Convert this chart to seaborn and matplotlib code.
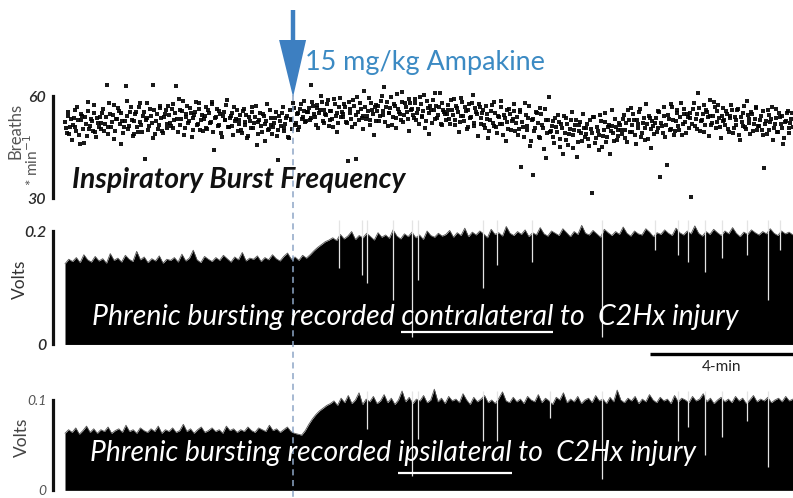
import numpy as np
import pandas as pd
import matplotlib
matplotlib.use("Agg")
import matplotlib.pyplot as plt
import seaborn as sns

# ---------------- data ----------------
record_minutes = 20.36      # length of the recording shown
injection_min = 6.38        # time of the Ampakine bolus
scale_bar_min = 4           # "4-min" scale bar

# inspiratory burst frequency (breaths/min): odd breaths, one row ~ 1 min
freq_rows_a = [
    [52.4, 49.1, 55.3, 50.8, 47.2, 53.6, 51.0, 56.8, 48.5, 52.9, 54.1, 46.3, 51.7, 58.2, 50.2, 53.3, 49.6, 55.0, 47.9, 52.1],
    [53.8, 50.4, 56.2, 51.9, 63.1, 48.7, 54.6, 52.3, 57.4, 49.8, 53.1, 55.7, 45.9, 52.6, 50.9, 62.8, 54.2, 51.3, 56.9, 48.2],
    [52.7, 55.4, 49.3, 57.8, 51.6, 54.0, 41.4, 53.5, 50.1, 56.3, 52.2, 63.3, 48.9, 54.8, 51.4, 57.1, 49.7, 53.9, 55.8, 50.6],
    [54.3, 51.2, 57.6, 52.8, 63.0, 49.4, 55.9, 53.1, 58.4, 50.7, 54.7, 52.0, 56.5, 47.8, 53.6, 55.2, 51.5, 57.9, 49.9, 54.4],
    [53.2, 56.7, 50.3, 54.9, 52.4, 58.1, 44.2, 53.7, 51.1, 55.6, 49.2, 54.2, 52.9, 57.3, 50.8, 53.4, 55.1, 48.6, 52.6, 56.0],
    [51.8, 54.5, 49.0, 56.1, 52.3, 47.5, 53.9, 50.5, 55.4, 52.0, 57.2, 48.8, 53.0, 51.2, 54.8, 46.9, 52.7, 50.1, 55.9, 51.5],
    [50.9, 53.6, 48.3, 41.2, 52.5, 55.0, 49.6, 51.8, 54.2, 47.7, 53.1, 50.4, 56.6, 52.2, 54.9, 51.0, 57.5, 53.8, 55.7, 52.6],
    [55.2, 52.8, 63.2, 57.1, 53.9, 56.4, 50.7, 55.8, 58.3, 52.1, 54.6, 57.7, 51.3, 55.5, 53.2, 59.0, 54.0, 49.5, 56.8, 53.7],
    [54.8, 57.6, 52.4, 41.0, 56.1, 53.3, 58.8, 51.7, 41.6, 55.4, 57.9, 53.6, 50.3, 56.7, 54.1, 59.4, 52.9, 55.9, 48.4, 57.3],
    [55.7, 52.6, 58.5, 54.3, 62.6, 56.9, 51.1, 55.0, 59.6, 53.8, 57.2, 50.6, 56.3, 54.7, 61.3, 52.3, 57.8, 55.3, 49.7, 58.0],
    [56.2, 53.4, 59.2, 55.1, 51.8, 57.5, 54.0, 60.4, 52.7, 56.6, 48.9, 55.8, 58.7, 53.1, 57.0, 54.5, 61.0, 51.4, 56.0, 54.8],
    [54.6, 57.3, 51.9, 55.9, 59.1, 53.0, 56.4, 49.4, 54.2, 58.2, 52.5, 55.6, 50.8, 57.6, 53.7, 60.2, 51.2, 55.2, 48.1, 56.8],
    [53.5, 56.0, 50.7, 54.8, 47.6, 52.9, 57.4, 51.3, 55.1, 49.2, 53.8, 58.6, 51.9, 54.4, 46.8, 52.4, 56.2, 50.0, 53.2, 55.7],
    [52.1, 48.6, 55.3, 39.2, 51.0, 57.9, 49.9, 53.6, 45.4, 52.8, 36.9, 50.5, 54.9, 47.8, 56.4, 51.6, 44.3, 53.0, 49.1, 59.8],
    [49.6, 52.7, 46.1, 50.9, 54.5, 47.3, 51.8, 43.0, 49.0, 53.4, 45.7, 50.2, 55.2, 48.4, 51.5, 42.2, 49.8, 52.3, 46.9, 50.6],
    [48.9, 51.9, 45.2, 50.3, 31.4, 53.8, 47.5, 49.7, 44.1, 52.6, 48.2, 55.0, 46.4, 50.8, 42.9, 51.3, 49.2, 53.1, 47.0, 50.0],
    [51.4, 48.7, 54.3, 50.1, 46.6, 52.8, 56.5, 49.5, 53.0, 45.8, 51.7, 55.4, 48.0, 52.2, 50.6, 57.7, 47.4, 53.5, 44.6, 51.1],
    [52.0, 49.3, 55.6, 36.1, 51.3, 54.0, 47.9, 39.8, 53.3, 50.4, 56.9, 48.5, 52.7, 55.1, 50.0, 57.8, 51.9, 54.6, 49.0, 53.9],
    [53.4, 30.2, 56.1, 51.2, 54.8, 60.9, 49.8, 53.0, 57.3, 51.6, 55.2, 48.3, 54.1, 52.0, 58.2, 50.5, 55.7, 53.6, 47.6, 56.4],
    [52.8, 55.5, 50.2, 54.0, 57.4, 49.1, 53.7, 51.4, 56.2, 47.2, 52.3, 55.0, 50.8, 58.5, 53.1, 48.8, 54.6, 51.9, 56.8, 50.0],
    [51.2, 54.1, 48.4, 38.7, 52.6, 55.8, 50.0, 53.3, 47.0, 51.8, 56.3, 49.5, 53.9, 50.7, 45.9, 52.4, 54.9, 49.2, 52.0, 55.1],
]

# even breaths (interleaved with the rows above)
freq_rows_b = [
    [50.6, 54.2, 48.9, 53.1, 51.5, 56.0, 49.7, 52.8, 45.8, 54.7, 50.3, 53.9, 48.1, 55.6, 51.2, 52.5, 57.3, 49.4, 53.6, 50.9],
    [52.1, 55.0, 49.6, 53.7, 51.0, 57.9, 50.8, 54.4, 47.3, 53.2, 56.4, 51.7, 54.9, 49.0, 52.7, 58.6, 50.4, 55.3, 52.9, 48.8],
    [54.6, 50.9, 56.8, 52.3, 49.5, 55.2, 53.0, 58.0, 51.1, 54.1, 47.6, 55.9, 52.6, 50.2, 56.5, 53.4, 49.2, 54.8, 51.8, 57.0],
    [52.2, 56.1, 50.5, 54.9, 53.3, 59.2, 51.4, 55.5, 48.6, 53.8, 57.1, 52.5, 55.0, 50.0, 54.5, 58.3, 51.9, 56.2, 53.0, 49.8],
    [54.0, 50.6, 55.8, 52.1, 57.5, 49.3, 53.5, 56.3, 51.6, 54.6, 47.9, 55.3, 52.8, 58.7, 50.9, 54.2, 51.3, 56.9, 53.1, 49.6],
    [53.0, 49.9, 55.7, 51.4, 54.3, 48.2, 52.6, 56.8, 50.7, 53.8, 45.5, 52.3, 55.1, 49.3, 54.0, 51.9, 57.6, 50.4, 53.4, 48.7],
    [52.0, 55.3, 49.9, 54.1, 51.2, 56.7, 50.6, 53.5, 48.0, 55.8, 52.9, 57.9, 51.5, 54.6, 50.1, 56.2, 53.3, 58.6, 52.4, 55.4],
    [56.5, 53.4, 58.1, 54.7, 51.6, 57.3, 55.0, 60.1, 52.7, 56.0, 54.3, 58.9, 53.0, 55.7, 50.8, 57.5, 54.9, 52.2, 59.3, 55.2],
    [53.9, 56.8, 52.0, 58.2, 55.1, 50.9, 57.0, 54.4, 59.8, 52.8, 56.3, 54.0, 61.4, 53.1, 55.7, 51.4, 57.8, 54.6, 56.9, 52.5],
    [57.0, 54.1, 59.9, 55.6, 52.4, 58.3, 54.9, 56.6, 51.5, 57.7, 53.6, 60.5, 55.3, 52.9, 58.1, 54.5, 56.9, 53.2, 59.2, 55.9],
    [54.4, 57.8, 52.9, 56.3, 59.7, 53.8, 55.5, 50.7, 58.4, 54.9, 57.1, 52.2, 55.9, 60.9, 53.5, 56.8, 51.9, 58.0, 55.2, 53.0],
    [56.0, 53.2, 58.9, 54.5, 51.5, 57.1, 55.4, 52.3, 59.5, 54.0, 56.7, 50.2, 55.8, 53.6, 58.0, 52.0, 56.4, 54.8, 57.6, 51.7],
    [54.9, 51.6, 57.0, 53.3, 49.8, 55.6, 52.2, 58.3, 50.8, 54.1, 51.9, 56.8, 48.5, 53.4, 55.9, 50.3, 54.6, 52.7, 57.5, 49.6],
    [53.7, 50.2, 55.9, 52.4, 48.0, 54.3, 51.2, 57.0, 46.9, 53.1, 49.6, 55.4, 52.0, 47.5, 54.8, 50.7, 56.1, 41.8, 52.9, 49.3],
    [51.1, 47.8, 53.6, 49.4, 52.3, 45.1, 50.5, 54.2, 47.2, 51.7, 48.9, 53.0, 44.6, 50.0, 52.8, 46.5, 51.4, 49.0, 54.7, 47.9],
    [50.5, 47.4, 52.9, 49.1, 53.7, 46.3, 51.0, 48.5, 54.4, 45.0, 50.1, 52.4, 47.8, 51.6, 49.6, 55.8, 46.9, 50.9, 48.2, 52.2],
    [50.0, 53.1, 47.7, 52.0, 55.9, 49.3, 51.5, 54.6, 48.4, 52.9, 50.7, 56.3, 49.0, 53.5, 47.1, 51.8, 54.0, 50.3, 52.5, 48.9],
    [53.6, 50.7, 55.3, 52.1, 49.2, 56.7, 51.6, 54.3, 50.0, 57.5, 52.8, 49.7, 55.9, 51.2, 53.9, 48.6, 56.2, 52.4, 54.8, 50.6],
    [55.0, 51.9, 57.8, 53.3, 50.4, 56.5, 52.7, 54.6, 49.3, 55.9, 53.8, 58.9, 51.5, 54.2, 56.9, 52.3, 57.4, 50.9, 54.0, 52.6],
    [51.6, 54.7, 49.5, 53.4, 56.0, 50.7, 52.9, 55.8, 48.6, 53.8, 51.1, 57.1, 50.2, 54.3, 52.0, 55.4, 49.8, 53.2, 56.6, 51.3],
    [53.0, 50.1, 55.5, 51.7, 48.9, 54.4, 52.3, 56.9, 50.6, 53.6, 49.4, 55.1, 51.9, 54.0, 47.6, 52.7, 55.6, 50.5, 53.3, 51.0],
]

# integrated phrenic burst amplitude (V), every 0.1 min — contralateral
contra_env = [
    0.142, 0.150, 0.146, 0.153, 0.144, 0.158, 0.149, 0.145, 0.155, 0.147,
    0.151, 0.143, 0.160, 0.148, 0.152, 0.145, 0.157, 0.150, 0.146, 0.164,
    0.149, 0.154, 0.144, 0.151, 0.147, 0.156, 0.143, 0.150, 0.148, 0.153,
    0.145, 0.159, 0.147, 0.152, 0.166, 0.149, 0.144, 0.155, 0.150, 0.146,
    0.153, 0.148, 0.157, 0.151, 0.145, 0.154, 0.149, 0.162, 0.147, 0.152,
    0.150, 0.156, 0.146, 0.153, 0.149, 0.158, 0.151, 0.147, 0.155, 0.161,
    0.150, 0.154, 0.148, 0.157,
    0.152, 0.158, 0.165, 0.171, 0.176, 0.181, 0.184,
    0.188, 0.183, 0.194, 0.186, 0.191, 0.199, 0.185, 0.192, 0.188, 0.196,
    0.190, 0.184, 0.197, 0.189, 0.193, 0.187, 0.202, 0.191, 0.186, 0.195,
    0.190, 0.198, 0.188, 0.193, 0.185, 0.200, 0.192, 0.189, 0.196, 0.191,
    0.194, 0.201, 0.189, 0.197, 0.192, 0.205, 0.190, 0.198, 0.193, 0.200,
    0.195, 0.188, 0.203, 0.194, 0.197, 0.191, 0.208, 0.196, 0.192, 0.199,
    0.194, 0.202, 0.190, 0.197, 0.193, 0.206, 0.195, 0.191, 0.200, 0.196,
    0.192, 0.204, 0.197, 0.190, 0.199, 0.194, 0.210, 0.196, 0.193, 0.201,
    0.195, 0.189, 0.203, 0.197, 0.192, 0.199, 0.194, 0.207, 0.196, 0.191,
    0.200, 0.195, 0.193, 0.204, 0.198, 0.190, 0.197, 0.194, 0.202, 0.196,
    0.192, 0.205, 0.197, 0.193, 0.200, 0.195, 0.209, 0.196, 0.191, 0.199,
    0.194, 0.203, 0.197, 0.192, 0.200, 0.195, 0.206, 0.196, 0.190, 0.198,
    0.194, 0.202, 0.197, 0.193, 0.199, 0.195, 0.204, 0.196, 0.192, 0.200,
    0.195, 0.198, 0.193,
]

# integrated phrenic burst amplitude (V), every 0.1 min — ipsilateral
ipsi_env = [
    0.063, 0.067, 0.064, 0.069, 0.062, 0.066, 0.071, 0.064, 0.068, 0.063,
    0.067, 0.065, 0.070, 0.063, 0.066, 0.068, 0.064, 0.072, 0.065, 0.067,
    0.063, 0.069, 0.066, 0.064, 0.068, 0.065, 0.071, 0.063, 0.067, 0.065,
    0.069, 0.064, 0.066, 0.073, 0.065, 0.068, 0.063, 0.067, 0.070, 0.064,
    0.066, 0.069, 0.065, 0.067, 0.063, 0.071, 0.066, 0.068, 0.064, 0.067,
    0.065, 0.070, 0.066, 0.064, 0.069, 0.067, 0.065, 0.072, 0.066, 0.068,
    0.064, 0.067, 0.070, 0.065, 0.063, 0.062, 0.061,
    0.066, 0.073, 0.079, 0.084, 0.088, 0.091, 0.094, 0.096,
    0.099, 0.094, 0.102, 0.097, 0.105, 0.096, 0.100, 0.108, 0.095, 0.101,
    0.098, 0.104, 0.096, 0.099, 0.106, 0.097, 0.102, 0.095, 0.100, 0.110,
    0.098, 0.103, 0.096, 0.101, 0.099, 0.105, 0.097, 0.100, 0.112, 0.098,
    0.102, 0.096, 0.104, 0.099, 0.101, 0.097, 0.107, 0.100, 0.095, 0.103,
    0.098, 0.101, 0.105, 0.097, 0.100, 0.096, 0.102, 0.109, 0.099, 0.097,
    0.103, 0.098, 0.101, 0.096, 0.104, 0.100, 0.098, 0.106, 0.097, 0.102,
    0.099, 0.095, 0.103, 0.100, 0.108, 0.097, 0.101, 0.098, 0.104, 0.096,
    0.100, 0.102, 0.097, 0.105, 0.099, 0.101, 0.096, 0.103, 0.098, 0.111,
    0.100, 0.097, 0.102, 0.099, 0.104, 0.096, 0.101, 0.098, 0.106, 0.100,
    0.097, 0.103, 0.099, 0.101, 0.096, 0.105, 0.098, 0.102, 0.100, 0.097,
    0.104, 0.099, 0.101, 0.107, 0.098, 0.102, 0.096, 0.100, 0.103, 0.098,
    0.101, 0.097, 0.104, 0.099, 0.102, 0.096, 0.100, 0.105, 0.098, 0.101,
    0.099, 0.103, 0.097, 0.100, 0.102, 0.098, 0.104, 0.099, 0.101,
]

# weak / missed bursts (white drop-outs): time (min) and lowest level (V)
contra_gap_t = [7.66, 8.31, 8.45, 9.17, 9.71, 9.87, 11.69, 12.08, 13.06, 15.02,
                16.50, 17.15, 17.43, 17.90, 18.38, 19.08, 19.66, 20.00]
contra_gap_v = [0.135, 0.122, 0.108, 0.078, 0.012, 0.113, 0.099, 0.140, 0.145, 0.012,
                0.166, 0.158, 0.145, 0.127, 0.152, 0.158, 0.078, 0.166]
ipsi_gap_t = [8.45, 9.71, 9.87, 11.69, 12.08, 13.57, 15.02, 17.15, 17.43, 17.90,
              18.38, 19.08, 19.66]
ipsi_gap_v = [0.068, 0.016, 0.057, 0.054, 0.054, 0.080, 0.0125, 0.054, 0.070, 0.039,
              0.059, 0.077, 0.026]

# ---------------- figure geometry (pixels of the 793x498 image) ----------------
W, H = 793, 498
PX_PER_MIN = 35.75
X0_PX = 65
SPINE_PX = 53
BLUE = "#3d7fc1"
TXTBLUE = "#3b8ac3"
FONT = ["Lato", "DejaVu Sans"]

sns.set_theme(style="white")
plt.rcParams["font.family"] = FONT

fig = plt.figure(figsize=(W / 100, H / 100), dpi=100)
fig.patch.set_facecolor("white")
xlim = (-X0_PX / PX_PER_MIN, (W - X0_PX) / PX_PER_MIN)


def px2t(x):
    return (x - X0_PX) / PX_PER_MIN


def panel(top, bot, v0, y0, v1, y1, labsize):
    ax = fig.add_axes([0, 1 - bot / H, 1, (bot - top) / H])
    scale = (y0 - y1) / (v1 - v0)
    ax.set_ylim(v0 - (bot - y0) / scale, v1 + (y1 - top) / scale)
    ax.set_xlim(*xlim)
    ax.set_facecolor("none")
    for s in ["top", "right", "bottom"]:
        ax.spines[s].set_visible(False)
    ax.spines["left"].set_position(("data", px2t(SPINE_PX)))
    ax.spines["left"].set_bounds(v0, v1)
    ax.spines["left"].set_linewidth(2.3)
    ax.spines["left"].set_color("#111111")
    ax.set_xticks([])
    ax.set_yticks([v0, v1])
    ax.tick_params(axis="y", length=0, pad=5, labelsize=labsize, labelcolor="#2a2a2a")
    ax.grid(False)
    return ax


# --- top: breath-by-breath frequency ---
ax_f = panel(60, 210, 30, 198, 60, 96, 11.5)
fa = [v for row in freq_rows_a for v in row]
fb = [v for row in freq_rows_b for v in row]
freq = np.empty(len(fa) + len(fb))
freq[0::2] = fa
freq[1::2] = fb
df_f = pd.DataFrame({"t": np.linspace(0, record_minutes, len(freq)), "f": freq})
sns.scatterplot(data=df_f, x="t", y="f", ax=ax_f, color="black", s=6, marker="s",
                linewidth=0, alpha=0.9, legend=False)
ax_f.set_xlim(*xlim)
ax_f.set_xlabel("")
ax_f.set_ylabel("")
ax_f.set_yticks([30, 60])
ax_f.set_yticklabels(["30", "60"], fontstyle="italic", fontweight="semibold")


def trace(ax, env, gap_t, gap_v, top):
    t = np.linspace(0, record_minutes, len(env))
    ax.fill_between(t, -0.004 * top, env, color="black", lw=0)
    ax.plot(t, env, color="#555555", lw=0.6)
    ax.vlines(gap_t, gap_v, top * 1.1, color="#e4e4e4", lw=0.9)


ax_c = panel(215, 350, 0, 344, 0.2, 231, 11.5)
trace(ax_c, contra_env, contra_gap_t, contra_gap_v, 0.2)
ax_c.set_yticklabels(["0", "0.2"], fontstyle="italic", fontweight="semibold")

ax_i = panel(380, 498, 0, 490, 0.1, 400, 10)
trace(ax_i, ipsi_env, ipsi_gap_t, ipsi_gap_v, 0.1)
ax_i.set_yticklabels(["0", "0.1"], fontstyle="italic", color="#555555")

# --- overlay for annotations (x in minutes, y in image pixels) ---
ov = fig.add_axes([0, 0, 1, 1], zorder=10)
ov.set_xlim(*xlim)
ov.set_ylim(H, 0)
ov.axis("off")
ov.patch.set_alpha(0)

rend = fig.canvas.get_renderer()


def text_w(s, **kw):
    t = ov.text(0, 0, s, **kw)
    w = t.get_window_extent(rend).width
    t.remove()
    return w


def fit_text(x_px, y_px, s, target_w, **kw):
    base = 20
    w = text_w(s, fontsize=base, **kw)
    size = base * target_w / w
    ov.text(px2t(x_px), y_px, s, fontsize=size, **kw)
    return size


# injection marker
ov.plot([injection_min, injection_min], [95, H], color="#8ea6c6", lw=1.1,
        dashes=(4, 3))
ov.plot([injection_min, injection_min], [10, 44], color=BLUE, lw=3.2,
        solid_capstyle="butt")
ov.fill([injection_min - 14 / PX_PER_MIN, injection_min + 13 / PX_PER_MIN, injection_min],
        [40, 40, 97], color=BLUE, lw=0)
fit_text(305, 70, "15 mg/kg Ampakine", 240, color=TXTBLUE, va="baseline")

fit_text(72, 180, "Inspiratory Burst Frequency", 333, color="#111111",
         fontweight="bold", fontstyle="italic", va="center")


def burst_label(x_px, y_base, pre, word, post, target_w, ul_y):
    kw = dict(color="white", fontstyle="italic", va="baseline")
    full = pre + " " + word + post
    size = fit_text(x_px, y_base, full, target_w, **kw)
    w_pre = text_w(pre, fontsize=size, **kw)
    w_sp = text_w("a a", fontsize=size, **kw) - text_w("aa", fontsize=size, **kw)
    w_word = text_w(word, fontsize=size, **kw)
    x1 = x_px + w_pre + w_sp
    ov.plot([px2t(x1), px2t(x1 + w_word)], [ul_y, ul_y], color="white", lw=1.6,
            solid_capstyle="butt")


burst_label(92, 325, "Phrenic bursting recorded", "contralateral", " to  C2Hx injury",
            645, 332)
burst_label(90, 461, "Phrenic bursting recorded", "ipsilateral", " to  C2Hx injury",
            607, 473)

# time scale bar
sb0 = px2t(650)
ov.plot([sb0, sb0 + scale_bar_min], [354, 354], color="black", lw=2.4,
        solid_capstyle="butt")
ov.text(sb0 + scale_bar_min / 2, 367, "4-min", ha="center", va="center",
        fontsize=11, color="#222222")

# axis titles
ov.text(px2t(15), 131, "Breaths", rotation=90, ha="center", va="center",
        fontsize=12, color="#555555")
ov.text(px2t(32), 160, "* min$^{-1}$", rotation=90, ha="center", va="center",
        fontsize=11, color="#555555")
ov.text(px2t(20), 279, "Volts", rotation=90, ha="center", va="center",
        fontsize=12.5, color="#333333")
ov.text(px2t(22), 437, "Volts", rotation=90, ha="center", va="center",
        fontsize=12.5, color="#444444")

fig.savefig("out.png", dpi=100, facecolor="white")
